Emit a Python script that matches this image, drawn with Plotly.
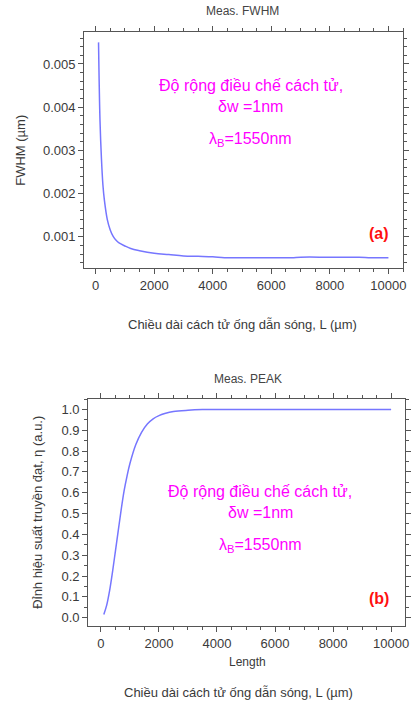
import plotly.graph_objects as go

# ---- data ----
L_fwhm = [100, 150, 200, 250, 300, 400, 500, 600, 700, 800, 1000, 1200, 1500,
          2000, 2500, 3000, 3500, 4000, 4400, 5000, 6000, 6700, 7000, 8000, 9000, 9400, 10000]
fwhm = [0.0055, 0.0037, 0.0028, 0.0022, 0.00185, 0.0014, 0.00116, 0.00101, 0.00092,
        0.00086, 0.00079, 0.00073, 0.00068, 0.00062, 0.00059, 0.00056, 0.00055,
        0.00054, 0.00052, 0.00052, 0.00052, 0.00052, 0.00053, 0.00053, 0.00053, 0.00052, 0.00052]

L_peak = [100, 200, 300, 400, 500, 600, 700, 800, 900, 1000, 1200, 1400, 1600, 1800,
          2000, 2200, 2500, 3000, 3500, 4000, 5000, 6000, 8000, 10000]
peak = [0.015, 0.06, 0.13, 0.22, 0.32, 0.42, 0.52, 0.61, 0.68, 0.74, 0.83, 0.89, 0.93,
        0.955, 0.97, 0.98, 0.99, 0.996, 0.999, 1.0, 1.0, 1.0, 1.0, 1.0]

x_tickvals = [0, 2000, 4000, 6000, 8000, 10000]
x_ticktext = ["0", "2000", "4000", "6000", "8000", "10000"]
y1_tickvals = [0.001, 0.002, 0.003, 0.004, 0.005]
y1_ticktext = ["0.001", "0.002", "0.003", "0.004", "0.005"]
y2_tickvals = [0.0, 0.1, 0.2, 0.3, 0.4, 0.5, 0.6, 0.7, 0.8, 0.9, 1.0]

W, H = 414, 702
FONT = "Liberation Sans, Arial, sans-serif"
LINE = "#7676ff"
AX = "#555555"
TXT = "#3a3a3a"
MAG = "#ff00ff"

fig = go.Figure()
fig.add_trace(go.Scatter(x=L_fwhm, y=fwhm, mode="lines", line=dict(color=LINE, width=1.5),
                         xaxis="x", yaxis="y", showlegend=False, line_shape="spline"))
fig.add_trace(go.Scatter(x=L_peak, y=peak, mode="lines", line=dict(color=LINE, width=1.5),
                         xaxis="x2", yaxis="y2", showlegend=False, line_shape="spline"))

def px(x):
    return x / W

def py(y):
    return 1 - y / H

axis_common = dict(showline=True, linecolor=AX, linewidth=1, mirror="allticks",
                   ticks="outside", ticklen=5, tickcolor=AX, tickwidth=1,
                   showgrid=False, zeroline=False,
                   tickfont=dict(family=FONT, size=13, color=TXT))

fig.update_layout(
    width=W, height=H, margin=dict(l=0, r=0, t=0, b=0),
    paper_bgcolor="white", plot_bgcolor="white",
    xaxis=dict(domain=[px(85), px(407)], range=[-390, 10500], anchor="y",
               tickmode="array", tickvals=x_tickvals, ticktext=x_ticktext,
               minor=dict(dtick=500, tick0=0, ticks="outside", ticklen=3, tickcolor=AX, showgrid=False),
               **axis_common),
    yaxis=dict(domain=[py(268), py(32)], range=[0.00028, 0.00574], anchor="x",
               tickmode="array", tickvals=y1_tickvals, ticktext=y1_ticktext,
               minor=dict(dtick=0.0002, tick0=0, ticks="outside", ticklen=3, tickcolor=AX, showgrid=False),
               **axis_common),
    xaxis2=dict(domain=[px(89), px(409)], range=[-440, 10480], anchor="y2",
                tickmode="array", tickvals=x_tickvals, ticktext=x_ticktext,
                minor=dict(dtick=500, tick0=0, ticks="outside", ticklen=3, tickcolor=AX, showgrid=False),
                **axis_common),
    yaxis2=dict(domain=[py(626), py(399)], range=[-0.04, 1.05], anchor="x2",
                tickmode="array", tickvals=y2_tickvals, tickformat=".1f",
                minor=dict(dtick=0.05, tick0=0, ticks="outside", ticklen=3, tickcolor=AX, showgrid=False),
                **axis_common),
)

def ann(text, x, y, size=13, color=TXT, angle=0, bold=False):
    if bold:
        text = "<b>" + text + "</b>"
    fig.add_annotation(text=text, x=px(x), y=py(y), xref="paper", yref="paper",
                       xanchor="center", yanchor="middle", showarrow=False, textangle=angle,
                       font=dict(family=FONT, size=size, color=color))

# top panel texts
ann("Meas. FWHM", 245, 11, size=12, color="#444444")
ann("FWHM (µm)", 20, 150, size=13, angle=-90)
ann("Chiều dài cách tử ống dẫn sóng, L (µm)", 245, 324, size=13)
ann("Độ rộng điều chế cách tử,", 253, 86, size=16, color=MAG)
ann("δw =1nm", 253, 106, size=16, color=MAG)
ann("λ<sub>B</sub>=1550nm", 253, 139, size=16, color=MAG)
ann("(a)", 383, 234, size=16, color="#ff1010", bold=True)

# bottom panel texts
ann("Meas. PEAK", 250, 379, size=12, color="#444444")
ann("Đỉnh hiệu suất truyền đạt, η (a.u.)", 37, 512, size=13, angle=-90)
ann("Length", 250, 662, size=12)
ann("Chiều dài cách tử ống dẫn sóng, L (µm)", 241, 692, size=13)
ann("Độ rộng điều chế cách tử,", 263, 492, size=16, color=MAG)
ann("δw =1nm", 263, 512, size=16, color=MAG)
ann("λ<sub>B</sub>=1550nm", 263, 545, size=16, color=MAG)
ann("(b)", 383, 598, size=16, color="#ff1010", bold=True)

fig.write_html("out.html", config={"displayModeBar": False},
               post_script="document.body.style.margin='0';document.body.style.overflow='hidden';")
